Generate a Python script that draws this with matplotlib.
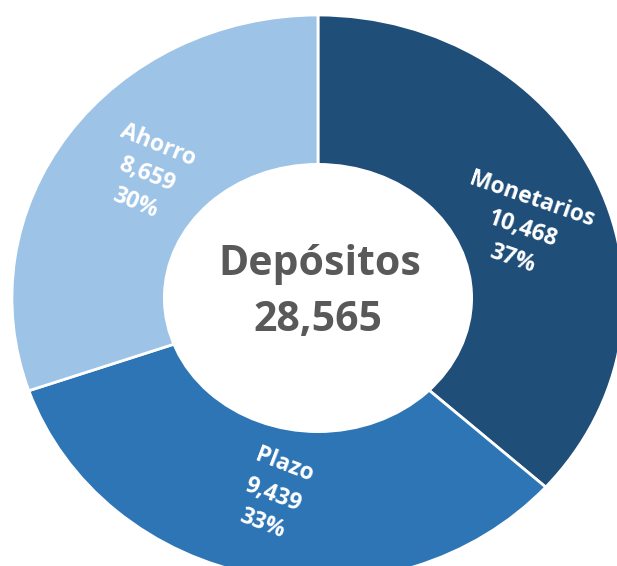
import numpy as np
import matplotlib.pyplot as plt
from matplotlib.patches import Ellipse

plt.rcParams['font.family'] = ['Open Sans', 'DejaVu Sans']

categorias = ['Monetarios', 'Plazo', 'Ahorro']
valores = [10468, 9439, 8659]
porcentajes = ['37%', '33%', '30%']
colores = ['#1F4E79', '#2E75B6', '#9DC3E6']
total = 28565

# giro de cada etiqueta y pequeno ajuste de angulo
rotaciones = [-19, -21, -22]
ajuste_ang = [-4, -0.5, -2.5]

fig = plt.figure(figsize=(6.17, 5.66), dpi=100)
ax = fig.add_axes([0, 0, 1, 1])

wedges, _ = ax.pie(valores, colors=colores, startangle=90, counterclock=False,
                   wedgeprops=dict(edgecolor='white', linewidth=2))

# hoyo central (un poco mas ancho que alto, como en la imagen)
ax.add_patch(Ellipse((0, 0), 1.013, 0.954, facecolor='white', edgecolor='none', zorder=5))

for w, cat, v, p, rot, da in zip(wedges, categorias, valores, porcentajes, rotaciones, ajuste_ang):
    ang = np.deg2rad((w.theta1 + w.theta2) / 2 + da)
    ax.text(0.71 * np.cos(ang), 0.71 * np.sin(ang), f'{cat}\n{v:,}\n{p}',
            ha='center', va='center', multialignment='center', rotation=rot,
            rotation_mode='anchor', color='white', fontsize=16.5, fontweight='bold',
            linespacing=1.4, zorder=6)

ax.text(0.005, 0.12, 'Depósitos', ha='center', va='center', fontsize=29.5,
        fontweight='bold', color='#595959', zorder=6)
ax.text(0.0, -0.08, f'{total:,}', ha='center', va='center', fontsize=29.5,
        fontweight='bold', color='#595959', zorder=6)

ax.set_aspect('auto')
ax.set_xlim(-1.039, 0.977)
ax.set_ylim(-0.947, 1.053)
ax.axis('off')

fig.savefig('out.png', dpi=100, facecolor='white')
